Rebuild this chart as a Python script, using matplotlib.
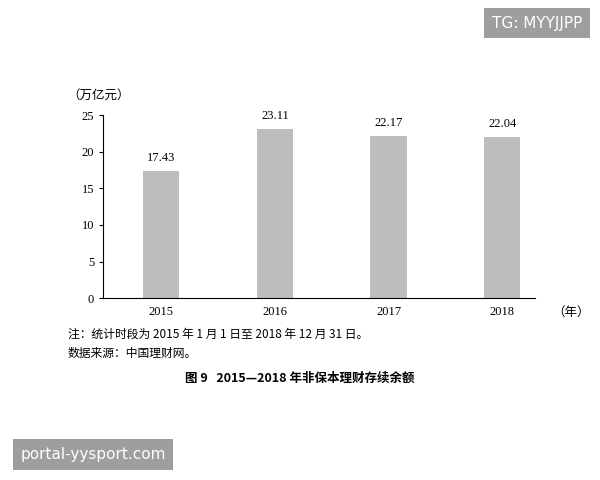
import matplotlib
matplotlib.use("Agg")
import matplotlib.pyplot as plt

years = ["2015", "2016", "2017", "2018"]
values = [17.43, 23.11, 22.17, 22.04]
yticks = [0, 5, 10, 15, 20, 25]

plt.rcParams['font.family'] = ['Liberation Serif', 'Noto Sans CJK SC']
fig = plt.figure(figsize=(6, 4.8), dpi=100)
ax = fig.add_axes([0.172, 0.379, 0.72, 0.381])
x = list(range(len(years)))
ax.bar(x, values, width=0.32, color='#bdbdbd')
for xi, v in zip(x, values):
    ax.text(xi, v + 0.9, f"{v:.2f}", ha='center', va='bottom', fontsize=9)
ax.set_xlim(-0.51, 3.29)
ax.set_ylim(0, 25)
ax.set_yticks(yticks)
ax.set_xticks(x)
ax.set_xticklabels(years)
ax.tick_params(axis='x', length=0, labelsize=9, pad=6)
ax.tick_params(axis='y', length=3, labelsize=9)
for s in ['top', 'right']:
    ax.spines[s].set_visible(False)
ax.text(-0.01, 1.09, "（万亿元）", transform=ax.transAxes, ha='center', fontsize=9,
        family=['Noto Sans CJK SC'])
ax.text(1.04, -0.08, "（年）", transform=ax.transAxes, ha='left', va='center', fontsize=9,
        family=['Noto Sans CJK SC'])
fig.text(0.113, 0.296, "注：统计时段为 2015 年 1 月 1 日至 2018 年 12 月 31 日。", fontsize=8.5,
         family=['Noto Sans CJK SC'])
fig.text(0.113, 0.256, "数据来源：中国理财网。", fontsize=8.5, family=['Noto Sans CJK SC'])
fig.text(0.5, 0.205, "图 9   2015—2018 年非保本理财存续余额", fontsize=9, ha='center',
         fontweight='bold', family=['Noto Sans CJK SC'])
fig.text(0.895, 0.952, "TG: MYYJJPP", fontsize=11, color='white', ha='center', va='center',
         family=['DejaVu Sans'], bbox=dict(boxstyle='square,pad=0.5', fc='#9e9e9e', ec='none'))
fig.text(0.155, 0.053, "portal-yysport.com", fontsize=11, color='white', ha='center', va='center',
         family=['DejaVu Sans'], bbox=dict(boxstyle='square,pad=0.5', fc='#9e9e9e', ec='none'))
fig.savefig("out.png", dpi=100)
